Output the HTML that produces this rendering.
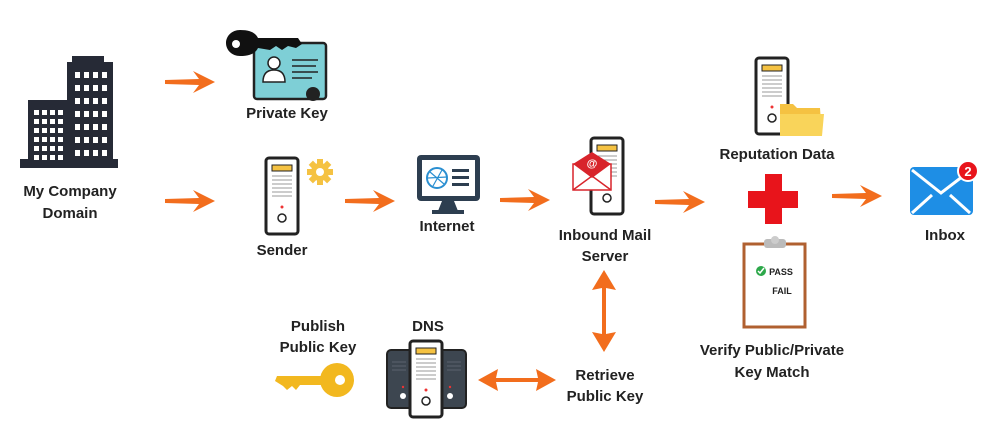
<!DOCTYPE html>
<html><head><meta charset="utf-8"><style>
html,body{margin:0;padding:0;background:#fff;}
svg{display:block}
text{font-family:"Liberation Sans",sans-serif;font-weight:bold;font-size:15px;fill:#222;text-anchor:middle}
</style></head><body>
<svg width="994" height="444" viewBox="0 0 994 444">
<defs>
<g id="arr"><path d="M0,-2 L34,-3 L28,-11 L50,0 L28,11 L34,3 L0,2 Z" fill="#f26d1d"/></g>
<g id="srv">
<rect x="0" y="0" width="32" height="76" rx="3" fill="#fff" stroke="#222" stroke-width="3"/>
<rect x="6" y="7" width="20" height="6" fill="#f5c242" stroke="#222" stroke-width="1"/>
<g stroke="#999" stroke-width="1"><line x1="6" y1="18" x2="26" y2="18"/><line x1="6" y1="22" x2="26" y2="22"/><line x1="6" y1="26" x2="26" y2="26"/><line x1="6" y1="30" x2="26" y2="30"/><line x1="6" y1="34" x2="26" y2="34"/><line x1="6" y1="38" x2="26" y2="38"/></g>
<circle cx="16" cy="49" r="1.5" fill="#e33"/>
<circle cx="16" cy="60" r="4" fill="none" stroke="#222" stroke-width="1.5"/>
</g>
</defs>

<g fill="#262a36">
<rect x="67" y="62" width="46" height="100"/>
<rect x="72" y="56" width="32" height="8"/>
<rect x="28" y="100" width="40" height="62"/>
<rect x="20" y="159" width="98" height="9"/>
</g>
<g fill="#fff">
<g id="w1"><rect x="75" y="72" width="5" height="6"/><rect x="84" y="72" width="5" height="6"/><rect x="93" y="72" width="5" height="6"/><rect x="102" y="72" width="5" height="6"/></g>
<use href="#w1" y="13"/><use href="#w1" y="26"/><use href="#w1" y="39"/><use href="#w1" y="52"/><use href="#w1" y="65"/><use href="#w1" y="78"/>
<g id="w2"><rect x="34" y="110" width="5" height="5"/><rect x="42" y="110" width="5" height="5"/><rect x="50" y="110" width="5" height="5"/><rect x="58" y="110" width="5" height="5"/></g>
<use href="#w2" y="9"/><use href="#w2" y="18"/><use href="#w2" y="27"/><use href="#w2" y="36"/><use href="#w2" y="45"/>
</g>
<text x="70" y="196">My Company</text>
<text x="70" y="218">Domain</text>

<use href="#arr" x="165" y="82"/>
<use href="#arr" x="165" y="201"/>
<use href="#arr" x="345" y="201"/>
<use href="#arr" x="500" y="200"/>
<use href="#arr" x="655" y="202"/>
<use href="#arr" x="832" y="196"/>
<path d="M604,270 L616,290 L606,288 L606,334 L616,332 L604,352 L592,332 L602,334 L602,288 L592,290 Z" fill="#f26d1d"/>
<path d="M478,380 L498,369 L496,378 L538,378 L536,369 L556,380 L536,391 L538,382 L496,382 L498,391 Z" fill="#f26d1d"/>

<rect x="254" y="43" width="72" height="56" rx="3" fill="#7ecfd6" stroke="#222" stroke-width="2.5"/>
<circle cx="274" cy="63" r="6" fill="#fff" stroke="#222" stroke-width="1.5"/>
<path d="M263,82 Q263,70 274,70 Q285,70 285,82 Z" fill="#fff" stroke="#222" stroke-width="1.5"/>
<g stroke="#222" stroke-width="1.5"><line x1="292" y1="60" x2="318" y2="60"/><line x1="292" y1="66" x2="316" y2="66"/><line x1="292" y1="72" x2="318" y2="72"/><line x1="292" y1="78" x2="312" y2="78"/></g>
<circle cx="313" cy="94" r="7" fill="#222"/>
<path d="M240,30 C252,30 256,34 258,38 L298,38 L302,44 L296,48 L288,46 L282,50 L276,46 L270,50 L258,48 C256,52 252,56 240,56 C232,56 226,50 226,43 C226,36 232,30 240,30 Z" fill="#111"/>
<circle cx="236" cy="44" r="4" fill="#fff"/>
<text x="287" y="118">Private Key</text>

<use href="#srv" x="266" y="158"/>
<g fill="#f5c242"><circle cx="320" cy="172" r="9"/>
<g transform="translate(320,172)"><rect x="-3" y="-13" width="6" height="26"/><rect x="-13" y="-3" width="26" height="6"/><rect x="-3" y="-13" width="6" height="26" transform="rotate(45)"/><rect x="-3" y="-13" width="6" height="26" transform="rotate(-45)"/></g>
<circle cx="320" cy="172" r="4" fill="#fff"/></g>
<text x="282" y="255">Sender</text>

<rect x="417" y="155" width="63" height="46" rx="4" fill="#2d3e50"/>
<rect x="422" y="160" width="53" height="36" fill="#fff"/>
<path d="M442,201 L438,211 L458,211 L454,201 Z" fill="#2d3e50"/>
<rect x="432" y="210" width="32" height="4" fill="#2d3e50"/>
<circle cx="437" cy="178" r="10" fill="none" stroke="#2a8fd1" stroke-width="2"/>
<path d="M430,172 L444,184 M433,186 L442,170 M428,178 L447,177" stroke="#2a8fd1" stroke-width="1.2" fill="none"/>
<g fill="#2d3e50"><rect x="452" y="169" width="17" height="3"/><rect x="452" y="176" width="17" height="3"/><rect x="452" y="183" width="17" height="3"/></g>
<text x="447" y="231">Internet</text>

<use href="#srv" x="591" y="138"/>
<rect x="573" y="164" width="38" height="26" fill="#fff" stroke="#d8242b" stroke-width="1.5"/>
<path d="M573,164 L592,152 L611,164 L592,178 Z" fill="#d8242b"/>
<path d="M573,190 L592,176 L611,190" fill="none" stroke="#d8242b" stroke-width="1.5"/>
<text x="592" y="167" style="fill:#fff;font-size:11px">@</text>
<text x="605" y="240">Inbound Mail</text>
<text x="605" y="261">Server</text>

<use href="#srv" x="756" y="58"/>
<path d="M780,104 L793,104 L797,108 L820,108 L822,136 L780,136 Z" fill="#f5c242"/>
<path d="M780,114 L824,114 L822,136 L780,136 Z" fill="#f9d45a"/>
<text x="777" y="159">Reputation Data</text>

<rect x="765" y="174" width="17" height="50" fill="#e8141b"/>
<rect x="748" y="191" width="50" height="17" fill="#e8141b"/>

<rect x="744" y="244" width="61" height="83" fill="#fff" stroke="#b06030" stroke-width="3"/>
<rect x="764" y="239" width="22" height="9" rx="3" fill="#bbb"/>
<circle cx="775" cy="240" r="4" fill="#ccc"/>
<circle cx="761" cy="271" r="5" fill="#2da84a"/>
<path d="M758,271 L760,273 L764,268" stroke="#fff" stroke-width="1.5" fill="none"/>
<text x="781" y="275" style="font-size:9px">PASS</text>
<text x="782" y="294" style="font-size:9px">FAIL</text>
<text x="772" y="355">Verify Public/Private</text>
<text x="772" y="377">Key Match</text>

<rect x="910" y="167" width="63" height="48" rx="4" fill="#1e8ee5"/>
<path d="M912,170 L941,193 L971,170" fill="none" stroke="#fff" stroke-width="3"/>
<path d="M912,213 L932,195 M970,213 L950,195" fill="none" stroke="#fff" stroke-width="3"/>
<circle cx="968" cy="171" r="10" fill="#e8141b" stroke="#fff" stroke-width="2"/>
<text x="968" y="176" style="fill:#fff;font-size:13px">2</text>
<text x="945" y="240">Inbox</text>

<text x="318" y="331">Publish</text>
<text x="318" y="352">Public Key</text>
<circle cx="337" cy="380" r="17" fill="#f2b81f"/>
<circle cx="340" cy="380" r="5" fill="#fff"/>
<path d="M277,376 L322,376 L322,385 L300,385 L296,390 L292,386 L287,390 L283,386 L275,381 Z" fill="#f2b81f"/>

<text x="428" y="331">DNS</text>
<rect x="387" y="350" width="79" height="58" rx="4" fill="#3d4650" stroke="#222" stroke-width="2"/>
<g stroke="#5a636e" stroke-width="1"><line x1="392" y1="362" x2="406" y2="362"/><line x1="392" y1="366" x2="406" y2="366"/><line x1="392" y1="370" x2="406" y2="370"/><line x1="447" y1="362" x2="461" y2="362"/><line x1="447" y1="366" x2="461" y2="366"/><line x1="447" y1="370" x2="461" y2="370"/></g>
<circle cx="403" cy="396" r="3" fill="#fff"/><circle cx="450" cy="396" r="3" fill="#fff"/>
<circle cx="403" cy="387" r="1.2" fill="#e33"/><circle cx="450" cy="387" r="1.2" fill="#e33"/>
<use href="#srv" x="410" y="341"/>
<text x="605" y="380">Retrieve</text>
<text x="605" y="401">Public Key</text>
</svg>
</body></html>
